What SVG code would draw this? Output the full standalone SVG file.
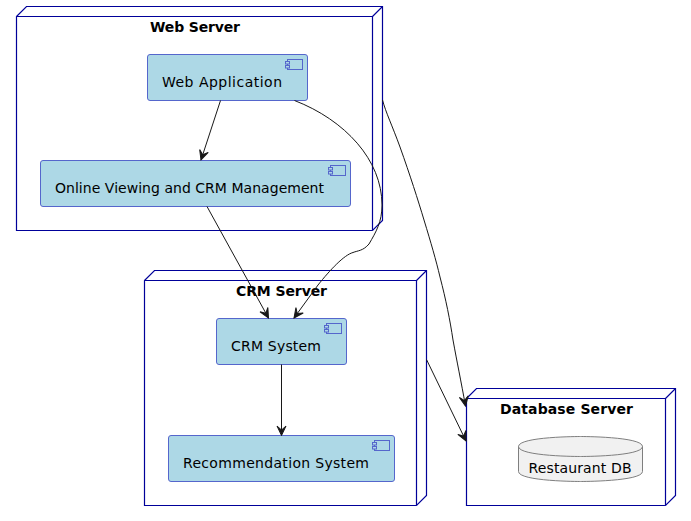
<svg xmlns="http://www.w3.org/2000/svg" width="691" height="521" viewBox="0 0 691 521">
<style>
.node{fill:#fff;stroke:#000099;stroke-width:1.2}
.comp{fill:#ADD8E6;stroke:#5566CC;stroke-width:1}
.icon{fill:#ADD8E6;stroke:#5566CC;stroke-width:1}
.db{fill:#F1F1F1;stroke:#7F7F7F;stroke-width:1}
.title{font-family:"DejaVu Sans",sans-serif;font-size:14px;font-weight:700;fill:#000}
.label{font-family:"DejaVu Sans",sans-serif;font-size:14px;fill:#000}
.edge{fill:none;stroke:#181818;stroke-width:1}
</style>
<defs>
<marker id="arrow" markerUnits="userSpaceOnUse" markerWidth="13" markerHeight="13" viewBox="-11 -6.5 13 13" refX="0" refY="0" orient="auto">
<path d="M0,0 L-9.5,-4.5 L-5.5,0 L-9.5,4.5 Z" fill="#181818" stroke="#181818" stroke-width="1"/>
</marker>
<g id="icon"><rect class="icon" x="-15" y="0" width="15" height="10"/><rect class="icon" x="-17" y="2" width="4" height="2.5"/><rect class="icon" x="-17" y="6" width="4" height="2.5"/></g>
</defs>
<g id="web-server">
<path class="node" d="M16.5,16.5 L26.5,6.5 L382.5,6.5 L382.5,220.5 L372.5,230.5 L16.5,230.5 Z"/>
<path class="node" d="M372.5,16.5 L382.5,6.5 M16.5,16.5 L372.5,16.5 L372.5,230.5"/>
<text class="title" x="150" y="32" textLength="90">Web Server</text>
</g>
<g id="crm-server">
<path class="node" d="M144.5,280.5 L154.5,270.5 L426.5,270.5 L426.5,495.5 L416.5,505.5 L144.5,505.5 Z"/>
<path class="node" d="M416.5,280.5 L426.5,270.5 M144.5,280.5 L416.5,280.5 L416.5,505.5"/>
<text class="title" x="236" y="296" textLength="91">CRM Server</text>
</g>
<g id="database-server">
<path class="node" d="M466.5,398.5 L476.5,388.5 L675.5,388.5 L675.5,495.5 L665.5,505.5 L466.5,505.5 Z"/>
<path class="node" d="M665.5,398.5 L675.5,388.5 M466.5,398.5 L665.5,398.5 L665.5,505.5"/>
<text class="title" x="500" y="414" textLength="133">Database Server</text>
</g>
<g id="web-application">
<rect class="comp" x="147.5" y="54.5" width="160" height="46" rx="2.5"/>
<use href="#icon" x="302.5" y="59.5"/>
<text class="label" x="162" y="87" textLength="120">Web Application</text>
</g>
<g id="online-viewing">
<rect class="comp" x="40.5" y="160.5" width="310" height="46" rx="2.5"/>
<use href="#icon" x="345.5" y="165.5"/>
<text class="label" x="55" y="193" textLength="269">Online Viewing and CRM Management</text>
</g>
<g id="crm-system">
<rect class="comp" x="216.5" y="318.5" width="130" height="46" rx="2.5"/>
<use href="#icon" x="341.5" y="323.5"/>
<text class="label" x="231" y="351" textLength="90">CRM System</text>
</g>
<g id="recommendation-system">
<rect class="comp" x="168.5" y="435.5" width="226" height="46" rx="2.5"/>
<use href="#icon" x="389.5" y="440.5"/>
<text class="label" x="183" y="468" textLength="186">Recommendation System</text>
</g>
<g id="restaurant-db">
<path class="db" d="M518.5,446.5 C518.5,436.5 580.5,436.5 580.5,436.5 C580.5,436.5 642.5,436.5 642.5,446.5 L642.5,471.5 C642.5,481.5 580.5,481.5 580.5,481.5 C580.5,481.5 518.5,481.5 518.5,471.5 Z"/>
<path class="db" style="fill:none" d="M518.5,446.5 C518.5,456.5 580.5,456.5 580.5,456.5 C580.5,456.5 642.5,456.5 642.5,446.5"/>
<text class="label" x="528.5" y="473" textLength="103">Restaurant DB</text>
</g>
<g id="connectors">
<path class="edge" marker-end="url(#arrow)" d="M220.5,100.5 L201,160"/>
<path class="edge" marker-end="url(#arrow)" d="M207,206.5 L268.5,318"/>
<path class="edge" marker-end="url(#arrow)" d="M281.5,364.5 L281.5,435.5"/>
<path class="edge" marker-end="url(#arrow)" d="M294.5,100.5 C345,120 382,160 382,205 C382,222 376,232 369,244 C363,251 358,250.500 353,252.500 C344,255 330,270 318,285 L294,318"/>
<path class="edge" marker-end="url(#arrow)" d="M382.5,100 C386,113 392,125 400,147 C410,175 418,200 424,220 C431,243 436,260 440,277 C446,300 450,320 453,340 C457,362 461,381 465.5,406"/>
<path class="edge" marker-end="url(#arrow)" d="M426.5,359.500 L466,441"/>
</g>
</svg>
